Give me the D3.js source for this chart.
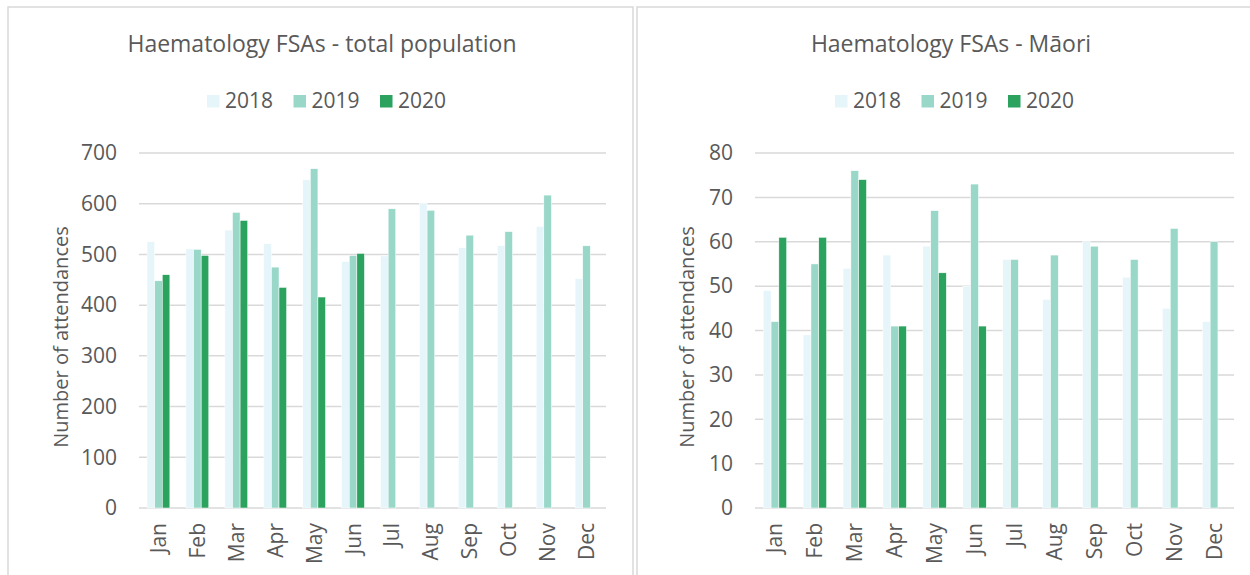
<!DOCTYPE html>
<html>
<head>
<meta charset="utf-8">
<script src="https://cdn.jsdelivr.net/npm/d3@7"></script>
<style>
  body { margin: 0; background: #fff; }
  text { font-family: "Open Sans", sans-serif; fill: #595959; }
</style>
</head>
<body>
<svg id="chart" width="1250" height="575"></svg>
<script>
const months = ["Jan", "Feb", "Mar", "Apr", "May", "Jun", "Jul", "Aug", "Sep", "Oct", "Nov", "Dec"];
const years = ["2018", "2019", "2020"];
const colors = ["#e5f5f9", "#99d8c9", "#2ca25f"];

// total population
const total2018 = [525, 511, 548, 521, 647, 486, 497, 601, 513, 517, 555, 452];
const total2019 = [448, 510, 583, 475, 669, 498, 590, 587, 538, 545, 617, 517];
const total2020 = [460, 498, 567, 435, 416, 502, null, null, null, null, null, null];
const totalTicks = [0, 100, 200, 300, 400, 500, 600, 700];

// Maori
const maori2018 = [49, 39, 54, 57, 59, 50, 56, 47, 60, 52, 45, 42];
const maori2019 = [42, 55, 76, 41, 67, 73, 56, 57, 59, 56, 63, 60];
const maori2020 = [61, 61, 74, 41, 53, 41, null, null, null, null, null, null];
const maoriTicks = [0, 10, 20, 30, 40, 50, 60, 70, 80];

const svg = d3.select("#chart");

// panel frames
svg.append("rect").attr("x", 8).attr("y", 7).attr("width", 625).attr("height", 620)
    .attr("fill", "none").attr("stroke", "#d9d9d9").attr("stroke-width", 1.5);
svg.append("rect").attr("x", 637).attr("y", 7).attr("width", 640).attr("height", 620)
    .attr("fill", "none").attr("stroke", "#d9d9d9").attr("stroke-width", 1.5);

function drawChart(opts) {
    const series = [opts.s2018, opts.s2019, opts.s2020];
    const top = 153, bottom = 508;

    const x = d3.scaleBand().domain(months).range([opts.left, opts.right])
        .paddingInner(0.414).paddingOuter(0.207);
    const x1 = d3.scaleBand().domain(years).range([0, x.bandwidth()]);
    const y = d3.scaleLinear().domain([0, opts.max]).range([bottom, top]);

    const g = svg.append("g");

    // gridlines
    g.selectAll("line.grid")
        .data(opts.ticks)
        .enter()
        .append("line")
        .attr("x1", opts.left)
        .attr("x2", opts.right)
        .attr("y1", d => y(d))
        .attr("y2", d => y(d))
        .attr("stroke", "#d9d9d9")
        .attr("stroke-width", 1.5);

    // y tick labels
    g.selectAll("text.ytick")
        .data(opts.ticks)
        .enter()
        .append("text")
        .attr("x", opts.left - 22)
        .attr("y", d => y(d))
        .attr("dy", "0.35em")
        .attr("text-anchor", "end")
        .style("font-size", "21px")
        .text(d => d);

    // bars
    years.forEach((yr, k) => {
        const vals = series[k].map((v, i) => ({month: months[i], v: v})).filter(d => d.v !== null);
        g.selectAll(null)
            .data(vals)
            .enter()
            .append("rect")
            .attr("x", d => x(d.month) + x1(yr))
            .attr("width", x1.bandwidth())
            .attr("y", d => y(d.v))
            .attr("height", d => y(0) - y(d.v))
            .attr("fill", colors[k])
            .attr("stroke", "#fff")
            .attr("stroke-width", 0.5);
    });

    // x labels
    g.selectAll("text.xtick")
        .data(months)
        .enter()
        .append("text")
        .attr("transform", d => "translate(" + (x(d) + x.bandwidth() / 2 + 7.5) + "," + (bottom + 15) + ") rotate(-90)")
        .attr("text-anchor", "end")
        .style("font-size", "21px")
        .text(d => d);

    // y axis title
    g.append("text")
        .attr("transform", "translate(" + opts.axisX + "," + 337 + ") rotate(-90)")
        .attr("text-anchor", "middle")
        .style("font-size", "20px")
        .text("Number of attendances");

    // title
    g.append("text")
        .attr("x", opts.center)
        .attr("y", 52)
        .attr("text-anchor", "middle")
        .style("font-size", "23px")
        .text(opts.title);

    // legend
    const leg = g.append("g");
    years.forEach((yr, k) => {
        const lx = opts.legendX + k * 86.5;
        leg.append("rect")
            .attr("x", lx)
            .attr("y", 95)
            .attr("width", 12.5)
            .attr("height", 12.5)
            .attr("fill", colors[k]);
        leg.append("text")
            .attr("x", lx + 18)
            .attr("y", 101)
            .attr("dy", "0.35em")
            .style("font-size", "21px")
            .text(yr);
    });
}

drawChart({
    title: "Haematology FSAs - total population",
    s2018: total2018, s2019: total2019, s2020: total2020,
    ticks: totalTicks, max: 700,
    left: 139, right: 606, axisX: 68, center: 322, legendX: 207
});

drawChart({
    title: "Haematology FSAs - Māori",
    s2018: maori2018, s2019: maori2019, s2020: maori2020,
    ticks: maoriTicks, max: 80,
    left: 755, right: 1234, axisX: 694, center: 951, legendX: 835
});
</script>
</body>
</html>
